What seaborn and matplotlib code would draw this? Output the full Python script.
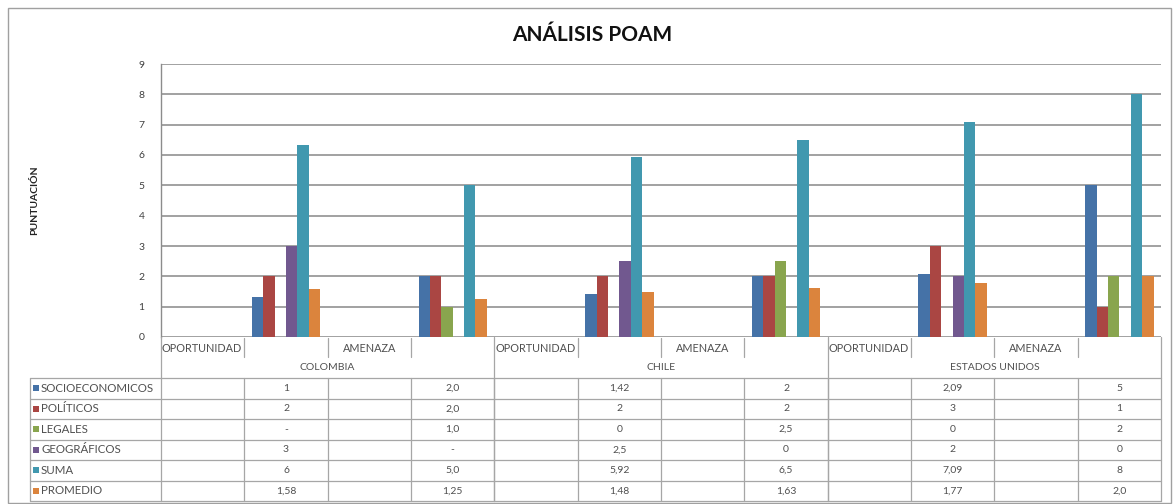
"""Recreation of the ANALISIS POAM Excel chart with its data table"""

import numpy as np
import pandas as pd
import matplotlib
matplotlib.use('Agg')
import matplotlib.pyplot as plt
import matplotlib.transforms as mtransforms
from matplotlib.lines import Line2D
from matplotlib.patches import Rectangle
import seaborn as sns

# Data
countries = ['COLOMBIA', 'CHILE', 'ESTADOS UNIDOS']
sub_labels = ['OPORTUNIDAD', '', 'AMENAZA', '']
series = ['SOCIOECONOMICOS', 'POLÍTICOS', 'LEGALES', 'GEOGRÁFICOS', 'SUMA', 'PROMEDIO']
colors = ['#4572A7', '#AA4643', '#89A54E', '#71588F', '#4198AF', '#DB843D']

nan = np.nan
socioeconomicos = [nan, 1.33, nan, 2.0, nan, 1.42, nan, 2.0, nan, 2.09, nan, 5.0]
politicos = [nan, 2.0, nan, 2.0, nan, 2.0, nan, 2.0, nan, 3.0, nan, 1.0]
legales = [nan, nan, nan, 1.0, nan, 0.0, nan, 2.5, nan, 0.0, nan, 2.0]
geograficos = [nan, 3.0, nan, nan, nan, 2.5, nan, 0.0, nan, 2.0, nan, 0.0]
suma = [nan, 6.33, nan, 5.0, nan, 5.92, nan, 6.5, nan, 7.09, nan, 8.0]
promedio = [nan, 1.58, nan, 1.25, nan, 1.48, nan, 1.63, nan, 1.77, nan, 2.0]

# Text shown in the data table (as printed in the sheet)
txt_socioeconomicos = ['', '1', '', '2,0', '', '1,42', '', '2', '', '2,09', '', '5']
txt_politicos = ['', '2', '', '2,0', '', '2', '', '2', '', '3', '', '1']
txt_legales = ['', '-', '', '1,0', '', '0', '', '2,5', '', '0', '', '2']
txt_geograficos = ['', '3', '', '-', '', '2,5', '', '0', '', '2', '', '0']
txt_suma = ['', '6', '', '5,0', '', '5,92', '', '6,5', '', '7,09', '', '8']
txt_promedio = ['', '1,58', '', '1,25', '', '1,48', '', '1,63', '', '1,77', '', '2,0']

values = [socioeconomicos, politicos, legales, geograficos, suma, promedio]
table_text = [txt_socioeconomicos, txt_politicos, txt_legales, txt_geograficos,
              txt_suma, txt_promedio]

categories = [f'{c}|{i}' for c in countries for i in range(len(sub_labels))]
rows = []
for name, vals in zip(series, values):
    for cat, v in zip(categories, vals):
        rows.append({'categoria': cat, 'serie': name, 'valor': v})
df = pd.DataFrame(rows)

# Figure
W, H = 1174, 504
sns.set_theme(style='white')
plt.rcParams['font.family'] = ['Lato', 'DejaVu Sans']
fig = plt.figure(figsize=(W / 100, H / 100), dpi=100)

def fx(px):
    return px / W

def fy(py):
    return 1 - py / H

ax_left, ax_right, ax_top, ax_bottom = 161, 1161, 64, 337
ax = fig.add_axes([fx(ax_left), fy(ax_bottom), fx(ax_right - ax_left), (ax_bottom - ax_top) / H])

sns.barplot(data=df, x='categoria', y='valor', hue='serie', order=categories,
            hue_order=series, palette=colors, width=0.82, errorbar=None,
            saturation=1, legend=False, linewidth=0, ax=ax)

ax.set_xlim(-0.5, len(categories) - 0.5)
ax.set_ylim(0, 9)
ax.set_yticks(range(0, 10))
ax.yaxis.grid(True, color='#888888', linewidth=1.1)
ax.set_axisbelow(True)
ax.set_xticks([])
ax.set_xlabel('')
ax.set_ylabel('')
ax.tick_params(axis='y', length=0, pad=12, labelsize=7.5, labelcolor='#404040')
for side in ['top', 'right', 'bottom']:
    ax.spines[side].set_visible(False)
ax.spines['left'].set_color('#8c8c8c')
ax.spines['left'].set_linewidth(1.0)

# Title and y label
fig.text(fx(592), fy(35), 'ANÁLISIS POAM', ha='center', va='center',
         fontsize=15, fontweight='bold', color='#111111')
fig.text(fx(35), fy(200), 'PUNTUACIÓN', ha='center', va='center', rotation=90,
         fontsize=7.5, fontweight='bold', color='#222222')

# Outer chart border
fig.add_artist(Rectangle((fx(8), fy(503)), fx(1163), (503 - 8) / H, transform=fig.transFigure,
                         fill=False, edgecolor='#a0a0a0', linewidth=1.0))

# Data table under the axis
blend = mtransforms.blended_transform_factory(ax.transData, fig.transFigure)
line_c = '#a6a6a6'
n = len(categories)
edges = np.arange(n + 1) - 0.5

def hline(x0, x1, py, trans):
    fig.add_artist(Line2D([x0, x1], [fy(py), fy(py)], transform=trans,
                          color=line_c, linewidth=0.9))

def vline(x, py0, py1, trans):
    fig.add_artist(Line2D([x, x], [fy(py0), fy(py1)], transform=trans,
                          color=line_c, linewidth=0.9))

row_top = 378
row_h = (501 - row_top) / len(series)
text_c = '#505050'

# header rows
for i, lab in enumerate(sub_labels * len(countries)):
    if i % 4 != 0:
        vline(edges[i], 338, 357, blend)
    if lab == 'OPORTUNIDAD':
        fig.text(edges[i] + 0.01, fy(348), lab, transform=blend, ha='left', va='center',
                 fontsize=7.8, color=text_c)
    elif lab:
        fig.text(i, fy(348), lab, transform=blend, ha='center', va='center',
                 fontsize=7.8, color=text_c)
for k, c in enumerate(countries):
    fig.text(4 * k + 1.5, fy(368), c, transform=blend, ha='center', va='center',
             fontsize=7.5, color=text_c)
    vline(edges[4 * k], 337, 501, blend)
vline(edges[-1], 337, 501, blend)

# data rows
for r in range(len(series) + 1):
    py = row_top + r * row_h
    hline(fx(30), fx(ax_left), py, fig.transFigure)
    hline(edges[0], edges[-1], py, blend)
vline(fx(30), row_top, 501, fig.transFigure)
for e in edges[1:-1]:
    vline(e, row_top, 501, blend)

for r, (name, col, txts) in enumerate(zip(series, colors, table_text)):
    cy = row_top + (r + 0.5) * row_h
    fig.add_artist(Rectangle((fx(33), fy(cy + 3)), fx(6), 6 / H, transform=fig.transFigure,
                             facecolor=col, edgecolor='none'))
    fig.text(fx(41), fy(cy), name, ha='left', va='center', fontsize=8.3, color=text_c)
    for i, t in enumerate(txts):
        if t:
            fig.text(i, fy(cy), t, transform=blend, ha='center', va='center',
                     fontsize=7.5, color=text_c)

fig.savefig('out.png', dpi=100)
